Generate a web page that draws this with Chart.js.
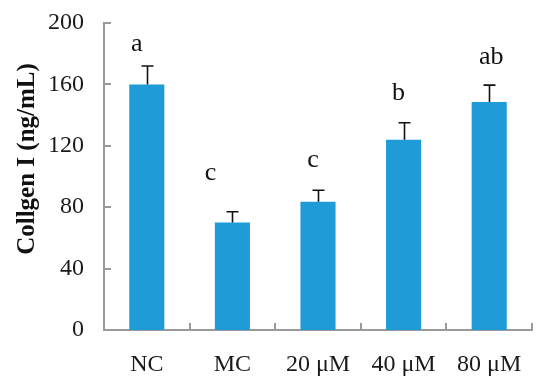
<!DOCTYPE html>
<html>
<head>
<meta charset="utf-8">
<script src="https://cdn.jsdelivr.net/npm/chart.js@4"></script>
<style>
  html, body { margin: 0; padding: 0; background: #fff; }
  #wrap { width: 550px; height: 383px; }
</style>
</head>
<body>
<div id="wrap"><canvas id="chartCollagen"></canvas></div>
<script>
// data
const groups = ["NC", "MC", "20 μM", "40 μM", "80 μM"];
const collagen = [160, 70, 83.5, 124, 148.5];
const errUp = [12, 7, 7.5, 11, 11];
const sigLetters = ["a", "c", "c", "b", "ab"];
const letterLevel = [182, 98, 106.5, 150, 173]; // baseline of the letters, in ng/mL
const yTicks = [0, 40, 80, 120, 160, 200];

const serif = "'Liberation Serif', 'Times New Roman', serif";
const axisGrey = "#9a9a9a";

// letters were nudged by hand in the figure
const letterShift = [-10, -22, -5, -5, 2];

const extras = {
  id: "extras",
  afterDatasetsDraw(chart) {
    const ctx = chart.ctx;
    const x = chart.scales.x;
    const y = chart.scales.y;
    const area = chart.chartArea;
    const meta = chart.getDatasetMeta(0);

    ctx.save();
    // error bars (upper only)
    ctx.strokeStyle = "#111";
    ctx.lineWidth = 1.6;
    meta.data.forEach((bar, i) => {
      const cx = Math.round(bar.x) + 0.5;
      const yTop = y.getPixelForValue(collagen[i] + errUp[i]);
      ctx.beginPath();
      ctx.moveTo(cx, bar.y);
      ctx.lineTo(cx, yTop);
      ctx.moveTo(cx - 6, yTop);
      ctx.lineTo(cx + 6, yTop);
      ctx.stroke();
    });

    // significance letters
    ctx.fillStyle = "#111";
    ctx.font = "26px " + serif;
    ctx.textAlign = "center";
    ctx.textBaseline = "alphabetic";
    meta.data.forEach((bar, i) => {
      ctx.fillText(sigLetters[i], bar.x + letterShift[i], y.getPixelForValue(letterLevel[i]));
    });

    // inward tick marks
    ctx.strokeStyle = axisGrey;
    ctx.lineWidth = 2;
    ctx.beginPath();
    yTicks.forEach((v) => {
      const py = Math.round(y.getPixelForValue(v));
      ctx.moveTo(area.left, py);
      ctx.lineTo(area.left + 7, py);
    });
    const step = x.getPixelForValue(1) - x.getPixelForValue(0);
    groups.forEach((g, i) => {
      const px = Math.round(x.getPixelForValue(i) + step / 2);
      ctx.moveTo(px, area.bottom);
      ctx.lineTo(px, area.bottom - 7);
    });
    ctx.stroke();

    // y axis title
    ctx.fillStyle = "#111";
    ctx.font = "bold 25px " + serif;
    ctx.translate(28, 159);
    ctx.rotate(-Math.PI / 2);
    ctx.textAlign = "center";
    ctx.textBaseline = "middle";
    ctx.fillText("Collgen I (ng/mL)", 0, 0);
    ctx.restore();
  },
};

const chart = new Chart("chartCollagen", {
  type: "bar",
  data: {
    labels: groups,
    datasets: [
      {
        data: collagen,
        backgroundColor: "#1f9bd7",
        borderWidth: 0,
        categoryPercentage: 1,
        barPercentage: 0.41,
      },
    ],
  },
  options: {
    responsive: true,
    maintainAspectRatio: false,
    animation: false,
    events: [],
    layout: { padding: { top: 23, right: 18, left: 0, bottom: 0 } },
    plugins: {
      legend: { display: false },
      tooltip: { enabled: false },
    },
    scales: {
      x: {
        grid: { display: false },
        border: { display: true, color: axisGrey, width: 2 },
        ticks: {
          color: "#1a1a1a",
          padding: 12,
          font: { family: serif, size: 24 },
        },
        afterFit(scale) {
          scale.height = 53;
          scale.paddingLeft = 0;
          scale.paddingRight = 0;
        },
      },
      y: {
        min: 0,
        max: 200,
        grid: { display: false },
        border: { display: true, color: axisGrey, width: 2 },
        ticks: {
          stepSize: 40,
          color: "#1a1a1a",
          padding: 12,
          font: { family: serif, size: 24 },
        },
        afterFit(scale) {
          scale.width = 104;
          scale.paddingTop = 0;
          scale.paddingBottom = 0;
        },
      },
    },
  },
  plugins: [extras],
});
</script>
</body>
</html>
